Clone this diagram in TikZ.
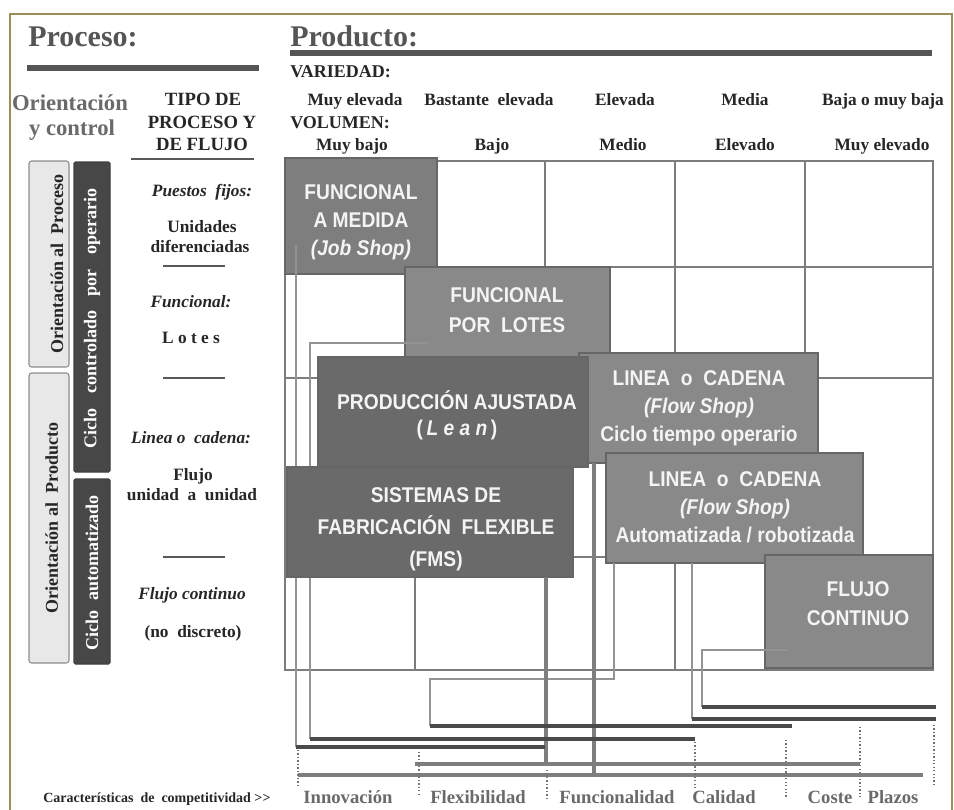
\documentclass[tikz,border=0pt]{standalone}
\usepackage{fontspec}
\setmainfont{Liberation Serif}
\newfontfamily\boxfont[FakeStretch=0.9]{Liberation Sans}
\usetikzlibrary{fit}
\definecolor{framecol}{HTML}{9C8D5B}
\definecolor{ink}{HTML}{262626}
\definecolor{headgray}{HTML}{555555}
\definecolor{softgray}{HTML}{6A6A6A}
\definecolor{gridgray}{HTML}{7C7C7C}
\definecolor{boxmid}{HTML}{7E7E7E}
\definecolor{boxlight}{HTML}{898989}
\definecolor{boxdark}{HTML}{6A6A6A}
\definecolor{barshade}{HTML}{4A4A4A}
\definecolor{railshade}{HTML}{7E7E7E}
\definecolor{wirecol}{HTML}{939393}
\definecolor{boxtextcol}{HTML}{F4F4F4}
\definecolor{sidelight}{HTML}{E8E8E8}
\definecolor{sidedark}{HTML}{474747}
\begin{document}
\begin{tikzpicture}[x=0.75pt,y=-0.75pt,
  big/.style={font=\bfseries\fontsize{22.5}{26}\selectfont, text=headgray, anchor=base west, inner sep=0},
  lbl/.style={font=\bfseries\fontsize{13}{16}\selectfont, text=ink, anchor=base, inner sep=0},
  ilbl/.style={lbl, font=\bfseries\itshape\fontsize{13}{16}\selectfont},
  hlbl/.style={font=\bfseries\fontsize{13.5}{16}\selectfont, text=ink, anchor=base west, inner sep=0},
  tipo/.style={font=\bfseries\fontsize{14}{17}\selectfont, text=ink, anchor=base, inner sep=0},
  orient/.style={font=\bfseries\fontsize{17}{20}\selectfont, text=softgray, anchor=base, inner sep=0},
  comp/.style={font=\bfseries\fontsize{14}{16}\selectfont, text=softgray, anchor=base, inner sep=0},
  gridline/.style={draw=gridgray, line width=1pt},
  stagebox/.style={draw=black!60, line width=0.8pt, inner sep=0, outer sep=0},
  boxtxt/.style={font=\boxfont\bfseries\fontsize{16}{21}\selectfont, text=boxtextcol, align=center, inner sep=0},
  sidebox/.style={draw=black!45, line width=0.8pt, rounded corners=2pt, fill=sidelight, inner sep=0},
  darkside/.style={draw=black!75, line width=0.8pt, rounded corners=1pt, fill=sidedark, inner sep=0},
  sidetxt/.style={font=\bfseries\fontsize{13.5}{16}\selectfont, text=ink, inner sep=0, rotate=90},
  rule/.style={draw=headgray, line width=4.5pt},
  sepline/.style={draw=black!65, line width=1.1pt},
  wire/.style={draw=wirecol, line width=1pt},
  bar/.style={draw=barshade, line width=3.6pt},
  rail/.style={draw=railshade, line width=3.6pt},
  stick/.style={draw=railshade, line width=3.2pt},
  tick/.style={draw=black!55, line width=0.8pt, dash pattern=on 1pt off 1.6pt}
]
\useasboundingbox (0,0) rectangle (954,810);
\fill[white] (0,0) rectangle (954,810);
% outer frame
\draw[framecol, line width=1.6pt] (10,810) -- (10,14) -- (952,14) -- (952,810);

% headings
\node[big] (hproc) at (28,46) {Proceso:};
\node[big] (hprod) at (290,46) {Producto:};
\draw[rule] (27,68) -- (259,68);
\draw[rule] (290,53) -- (932,53);

\node[hlbl] (hvar) at (290,77) {VARIEDAD:};
\node[hlbl] (hvol) at (290,128) {VOLUMEN:};
\node[lbl] (v1) at (355,105) {Muy elevada};
\node[lbl] (v2) at (489,105) {Bastante\ \ elevada};
\node[lbl] (v3) at (625,105) {Elevada};
\node[lbl] (v4) at (745,105) {Media};
\node[lbl] (v5) at (883,105) {Baja o\ muy baja};
\node[lbl] (q1) at (352,150) {Muy bajo};
\node[lbl] (q2) at (492,150) {Bajo};
\node[lbl] (q3) at (623,150) {Medio};
\node[lbl] (q4) at (745,150) {Elevado};
\node[lbl] (q5) at (882,150) {Muy elevado};

\node[orient] (or1) at (70,110) {Orientación};
\node[orient] (or2) at (72,135) {y control};
\node[tipo] (tp1) at (203,105) {TIPO DE};
\node[tipo] (tp2) at (202,128) {PROCESO Y};
\node[tipo] (tp3) at (202,150) {DE FLUJO};
\draw[sepline] (131,159) -- (254,159);

% side bands
\node[sidebox, fit={(29,161) (69,367)}] (oproc) {};
\node[sidebox, fit={(29,373) (69,663)}] (oprod) {};
\node[darkside, fit={(74,162) (110,472)}] (cop) {};
\node[darkside, fit={(74,479) (110,664)}] (caut) {};
\node[sidetxt] at (oproc.center) [yshift=-6pt] {Orientación al\ \ Proceso};
\node[sidetxt] at (oprod.center) [yshift=-2pt] {Orientación al\ \ Producto};
\node[sidetxt, text=white] at (cop.center) [xshift=-1pt] {Ciclo\hspace{11pt}controlado\hspace{11pt}por\hspace{11pt}operario};
\node[sidetxt, text=white] at (caut.center) [xshift=-1pt] {Ciclo\hspace{8pt}automatizado};

% process type column
\node[ilbl] (pf) at (202,196) {Puestos\ \ fijos:};
\node[lbl] (pf1) at (202,232) {Unidades};
\node[lbl] (pf2) at (200,252) {diferenciadas};
\draw[sepline] (163,266) -- (225,266);
\node[ilbl] (fn) at (191,307) {Funcional:};
\node[lbl] (fn1) at (191,343) {L o t e s};
\draw[sepline] (163,378) -- (225,378);
\node[ilbl] (lc) at (191,443) {Linea o\ \ cadena:};
\node[lbl] (lc1) at (193,480) {Flujo};
\node[lbl] (lc2) at (192,500) {unidad\ \ a\ \ unidad};
\draw[sepline] (163,557) -- (225,557);
\node[ilbl] (fc) at (192,599) {Flujo continuo};
\node[lbl] (fc1) at (193,637) {(no\ \ discreto)};

% volume / variety grid
\draw[gridline] (285,161) rectangle (933,670);
\foreach \gx in {415,545,675,805} \draw[gridline] (\gx,161) -- (\gx,670);
\foreach \gy in {267,378,557} \draw[gridline] (285,\gy) -- (933,\gy);

% process boxes
\node[stagebox, fill=boxmid, fit={(285,158) (437,274)}] (job) {};
\node[stagebox, fill=boxlight, fit={(405,267) (610,360)}] (lot) {};
\node[stagebox, fill=boxlight, fit={(579,353) (818,463)}] (lin1) {};
\node[stagebox, fill=boxdark, fit={(318,357) (588,467)}] (lean) {};
\node[stagebox, fill=boxlight, fit={(606,453) (863,563)}] (lin2) {};
\node[stagebox, fill=boxlight, fit={(765,555) (933,668)}] (flow) {};

% connector anchor points
\coordinate (jobTap) at (296,245);
\coordinate (jobEnd) at (296,747);
\coordinate (jobBarE) at (545,747);
\coordinate (lotTap) at (428,343);
\coordinate (lotEnd) at (310,739);
\coordinate (lotBarE) at (695,739);
\coordinate (autTapA) at (614,563);
\coordinate (autBend) at (430,679);
\coordinate (autEndA) at (430,726);
\coordinate (autBarA) at (792,726);
\coordinate (autTapB) at (692,563);
\coordinate (autEndB) at (692,719);
\coordinate (autBarB) at (936,719);
\coordinate (flowTap) at (787,650);
\coordinate (flowEnd) at (702,707);
\coordinate (flowBarE) at (936,707);
\coordinate (fmsTap) at (546,577);
\coordinate (fmsEnd) at (546,764);
\coordinate (railAW) at (415,764);
\coordinate (railAE) at (860,764);
\coordinate (linTap) at (594,463);
\coordinate (linEnd) at (594,775);
\coordinate (railBW) at (298,775);
\coordinate (railBE) at (923,775);

\draw[wire] (jobTap) -- (jobEnd);
\draw[wire] (lotTap) -| (lotEnd);
\draw[wire] (autTapA) |- (autBend) -- (autEndA);
\draw[wire] (autTapB) -- (autEndB);
\draw[wire] (flowTap) -| (flowEnd);

\node[stagebox, fill=boxdark, fit={(287,467) (573,577)}] (fms) {};

\draw[stick] (fmsTap) -- (fmsEnd);
\draw[stick] (linTap) -- (linEnd);
\draw[rail] (railAW) -- (railAE);
\draw[rail] (railBW) -- (railBE);
\draw[bar] (flowEnd) -- (flowBarE);
\draw[bar] (autEndB) -- (autBarB);
\draw[bar] (autEndA) -- (autBarA);
\draw[bar] (lotEnd) -- (lotBarE);
\draw[bar] (jobEnd) -- (jobBarE);

% box captions
\node[boxtxt] at (361,222) {FUNCIONAL\\A MEDIDA\\\textit{(Job Shop)}};
\node[boxtxt, font=\boxfont\bfseries\fontsize{16}{22.5}\selectfont] at (507,310) {FUNCIONAL\\POR\ \ LOTES};
\node[boxtxt, font=\boxfont\bfseries\fontsize{16}{19.5}\selectfont] at (457,415) {PRODUCCIÓN AJUSTADA\\(\,\textit{L e a n}\,)};
\node[boxtxt] at (699,408) {LINEA\ \ o\ \ CADENA\\\textit{(Flow Shop)}\\Ciclo tiempo operario};
\node[boxtxt] at (735,507) {LINEA\ \ o\ \ CADENA\\\textit{(Flow Shop)}\\Automatizada / robotizada};
\node[boxtxt, font=\boxfont\bfseries\fontsize{16}{24}\selectfont] at (436,529) {SISTEMAS DE\\FABRICACIÓN\ \ FLEXIBLE\\(FMS)};
\node[boxtxt, font=\boxfont\bfseries\fontsize{16}{21.75}\selectfont] at (858,604) {FLUJO\\CONTINUO};

% competitiveness separators
\draw[tick] (298,750) -- (298,785);
\draw[tick] (419,752) -- (419,795);
\draw[tick] (547,770) -- (547,800);
\draw[tick] (695,742) -- (695,790);
\draw[tick] (786,740) -- (786,797);
\draw[tick] (860,727) -- (860,797);
\draw[tick] (934,725) -- (934,785);

% competitiveness labels
\node[font=\bfseries\fontsize{10.5}{12}\selectfont, text=ink, anchor=base, inner sep=0] (cc) at (157,802) {Características\ \ de\ \ competitividad \mbox{>}\kern0.2pt\mbox{>}};
\node[comp] (k1) at (348,803) {Innovación};
\node[comp] (k2) at (478,803) {Flexibilidad};
\node[comp] (k3) at (617,803) {Funcionalidad};
\node[comp] (k4) at (724,803) {Calidad};
\node[comp] (k5) at (830,803) {Coste};
\node[comp] (k6) at (893,803) {Plazos};
\end{tikzpicture}
\end{document}
